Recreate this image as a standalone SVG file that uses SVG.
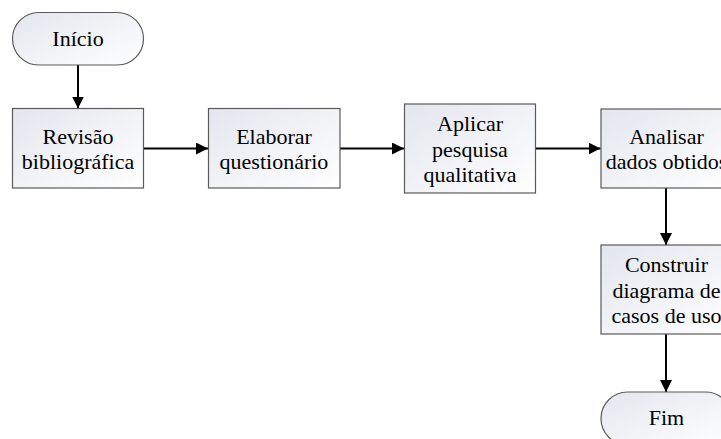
<svg xmlns="http://www.w3.org/2000/svg" width="721" height="439" viewBox="0 0 721 439">
<defs>
<linearGradient id="g" x1="0" y1="0" x2="1" y2="1">
<stop offset="0" stop-color="#e3e6ee"/>
<stop offset="1" stop-color="#ffffff"/>
</linearGradient>
<marker id="ah" viewBox="0 0 12 12" refX="12" refY="6" markerWidth="12" markerHeight="12" markerUnits="userSpaceOnUse" orient="auto">
<path d="M0,0 L12,6 L0,12 Z" fill="#000"/>
</marker>
<style>
.box{fill:url(#g);stroke:#5a5a5a;stroke-width:1.2}
.t{font-family:'Liberation Serif','Tinos','Times New Roman','DejaVu Serif',serif;font-size:22px;fill:#000;text-anchor:middle}
.c{stroke:#000;stroke-width:2;fill:none;marker-end:url(#ah)}
</style>
</defs>
<g id="connectors">
<line class="c" x1="78" y1="65" x2="78" y2="108.5"/>
<line class="c" x1="143.5" y1="148.5" x2="208" y2="148.5"/>
<line class="c" x1="340" y1="148.5" x2="404" y2="148.5"/>
<line class="c" x1="535.5" y1="148.5" x2="600.5" y2="148.5"/>
<line class="c" x1="666" y1="188" x2="666" y2="245"/>
<line class="c" x1="666" y1="334" x2="666" y2="392"/>
</g>
<g id="inicio">
<rect class="box" x="12.5" y="12.5" width="131" height="52.5" rx="26.25"/>
<text class="t" font-family="Liberation Serif, serif" x="78" y="45.5">Início</text>
</g>
<g id="revisao">
<rect class="box" x="12.5" y="108.5" width="131" height="79.5"/>
<text class="t" x="78" y="144">Revisão</text>
<text class="t" x="78" y="169">bibliográfica</text>
</g>
<g id="elaborar">
<rect class="box" x="208.5" y="108.5" width="131.5" height="79.5"/>
<text class="t" x="274" y="144">Elaborar</text>
<text class="t" x="274" y="169">questionário</text>
</g>
<g id="aplicar">
<rect class="box" x="404.5" y="104" width="131" height="89"/>
<text class="t" x="470" y="131">Aplicar</text>
<text class="t" x="470" y="156.5">pesquisa</text>
<text class="t" x="470" y="182">qualitativa</text>
</g>
<g id="analisar">
<rect class="box" x="601" y="109" width="131" height="79"/>
<text class="t" x="666.5" y="144">Analisar</text>
<text class="t" x="666.5" y="169">dados obtidos</text>
</g>
<g id="construir">
<rect class="box" x="601" y="245" width="131" height="89"/>
<text class="t" x="666.5" y="272">Construir</text>
<text class="t" x="666.5" y="297.5">diagrama de</text>
<text class="t" x="666.5" y="323">casos de uso</text>
</g>
<g id="fim">
<rect class="box" x="601" y="392" width="131" height="53" rx="26.5"/>
<text class="t" x="666.5" y="425">Fim</text>
</g>
</svg>
